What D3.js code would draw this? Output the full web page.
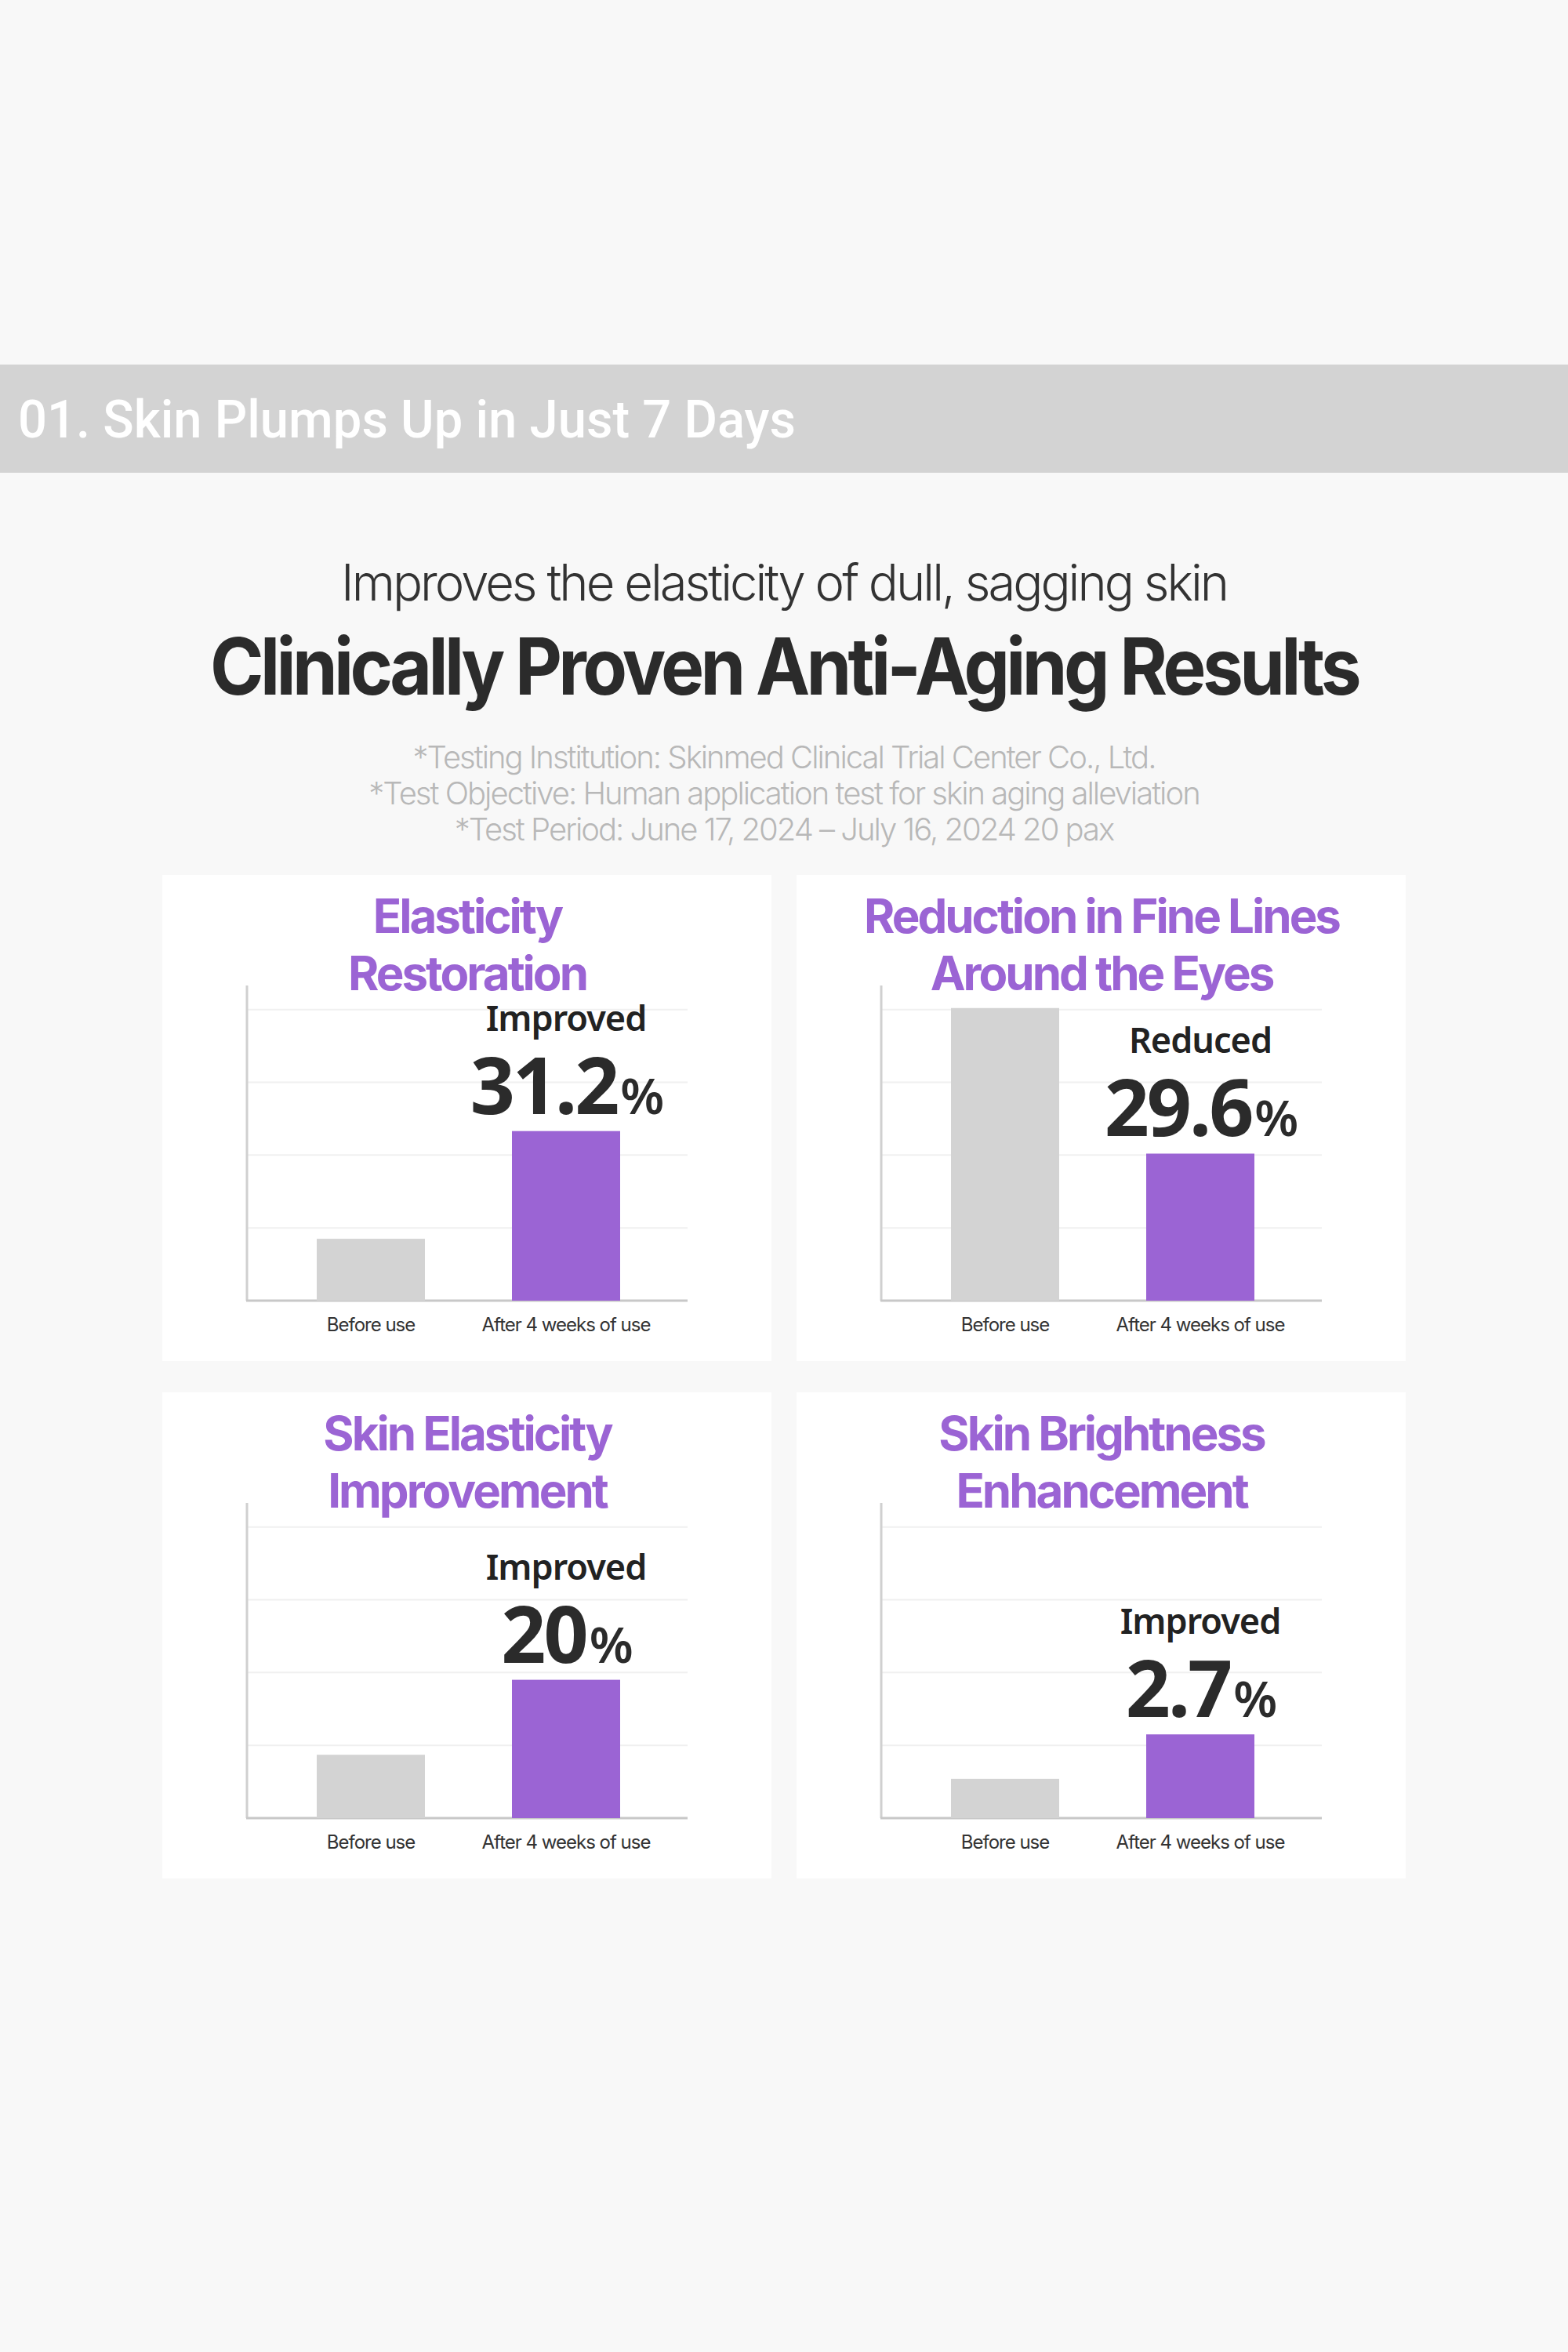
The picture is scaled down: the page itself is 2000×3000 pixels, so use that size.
<!DOCTYPE html>
<html><head><meta charset="utf-8">
<script src="https://cdn.jsdelivr.net/npm/d3@7"></script>
<style>body{margin:0;background:#f8f8f8}</style></head>
<body><svg id="c" width="2000" height="3000"></svg>
<script>
const categories = ["Before use", "After 4 weeks of use"];
const panelTitles = [["Elasticity","Restoration"],["Reduction in Fine Lines","Around the Eyes"],["Skin Elasticity","Improvement"],["Skin Brightness","Enhancement"]];
const beforeValues = [0.85, 4.02, 0.87, 0.54];
const afterValues = [2.33, 2.02, 1.90, 1.15];
const resultWords = ["Improved","Reduced","Improved","Improved"];
const resultNumbers = ["31.2","29.6","20","2.7"];
const gridTicks = [1,2,3,4];
const notes = ["*Testing Institution: Skinmed Clinical Trial Center Co., Ltd.","*Test Objective: Human application test for skin aging alleviation","*Test Period: June 17, 2024 – July 16, 2024 20 pax"];

const svg = d3.select("#c");
svg.append("rect").attr("width",2000).attr("height",3000).attr("fill","#f8f8f8");
svg.append("rect").attr("y",465).attr("width",2000).attr("height",138).attr("fill","#d3d3d3");
svg.append("text").attr("x",23).attr("y",558).attr("fill","#fff").attr("font-family","Roboto").attr("font-weight",500)
  .attr("font-size",66).attr("textLength",992).attr("lengthAdjust","spacingAndGlyphs").text("01. Skin Plumps Up in Just 7 Days");
svg.append("text").attr("x",1000).attr("y",766).attr("text-anchor","middle").attr("fill","#333").attr("font-family","Inter")
  .attr("font-weight",300).attr("font-size",64).attr("letter-spacing",-3).attr("textLength",1130).attr("lengthAdjust","spacingAndGlyphs")
  .text("Improves the elasticity of dull, sagging skin");
svg.append("text").attr("x",1000).attr("y",886).attr("text-anchor","middle").attr("fill","#2b2b2b").attr("font-family","Inter")
  .attr("font-weight",700).attr("font-size",100).attr("letter-spacing",-5).attr("textLength",1464).attr("lengthAdjust","spacingAndGlyphs")
  .text("Clinically Proven Anti-Aging Results");
notes.forEach((n,i)=>svg.append("text").attr("x",1000).attr("y",980+i*46).attr("text-anchor","middle").attr("fill","#b8b8b8")
  .attr("font-family","Inter").attr("font-weight",300).attr("font-size",40).attr("letter-spacing",-2).text(n));

const origins = [[207,1116],[1016,1116],[207,1776],[1016,1776]];
const y = d3.scaleLinear().domain([0,4.33]).range([543,141]);
const x = d3.scalePoint().domain(categories).range([266,515]);
const bw = 138;
origins.forEach(([ox,oy],i)=>{
  const g = svg.append("g").attr("transform",`translate(${ox},${oy})`);
  g.append("rect").attr("width",777).attr("height",620).attr("fill","#fff");
  panelTitles[i].forEach((t,j)=>g.append("text").attr("x",389).attr("y",74+j*73).attr("text-anchor","middle")
    .attr("fill","#9b64d4").attr("font-family","Inter").attr("font-weight",700).attr("font-size",60).attr("letter-spacing",-3).text(t));
  g.selectAll(".grid").data(gridTicks).join("line").attr("x1",109).attr("x2",670).attr("y1",d=>y(d)).attr("y2",d=>y(d))
    .attr("stroke","#f0f0f0").attr("stroke-width",2);
  g.append("line").attr("x1",108).attr("x2",108).attr("y1",141).attr("y2",543).attr("stroke","#d0d0d0").attr("stroke-width",3);
  g.append("line").attr("x1",107).attr("x2",670).attr("y1",543).attr("y2",543).attr("stroke","#c8c8c8").attr("stroke-width",3);
  const vals=[beforeValues[i],afterValues[i]];
  g.selectAll(".bar").data(categories).join("rect").attr("x",d=>x(d)-bw/2).attr("width",bw)
    .attr("y",(d,k)=>y(vals[k])).attr("height",(d,k)=>y(0)-y(vals[k])).attr("fill",(d,k)=>k?"#9b64d4":"#d3d3d3");
  g.selectAll(".lab").data(categories).join("text").attr("x",d=>x(d)).attr("y",582).attr("text-anchor","middle")
    .attr("fill","#333").attr("font-family","Inter").attr("font-size",24).attr("letter-spacing",-1).text(d=>d);
  const cx = x(categories[1]), top = y(vals[1]);
  g.append("text").attr("x",cx).attr("y",top-128).attr("text-anchor","middle").attr("fill","#222").attr("font-family","Noto Sans")
    .attr("font-weight",600).attr("font-size",45).attr("letter-spacing",-1).text(resultWords[i]);
  const num = g.append("text").attr("x",cx).attr("y",top-22).attr("text-anchor","middle").attr("fill","#2b2b2b").attr("font-family","Noto Sans")
    .attr("font-weight",700).attr("letter-spacing",-3);
  num.append("tspan").attr("font-size",100).text(resultNumbers[i]);
  num.append("tspan").attr("font-size",64).attr("font-weight",600).attr("dx",4).text("%");
});
</script></body></html>
